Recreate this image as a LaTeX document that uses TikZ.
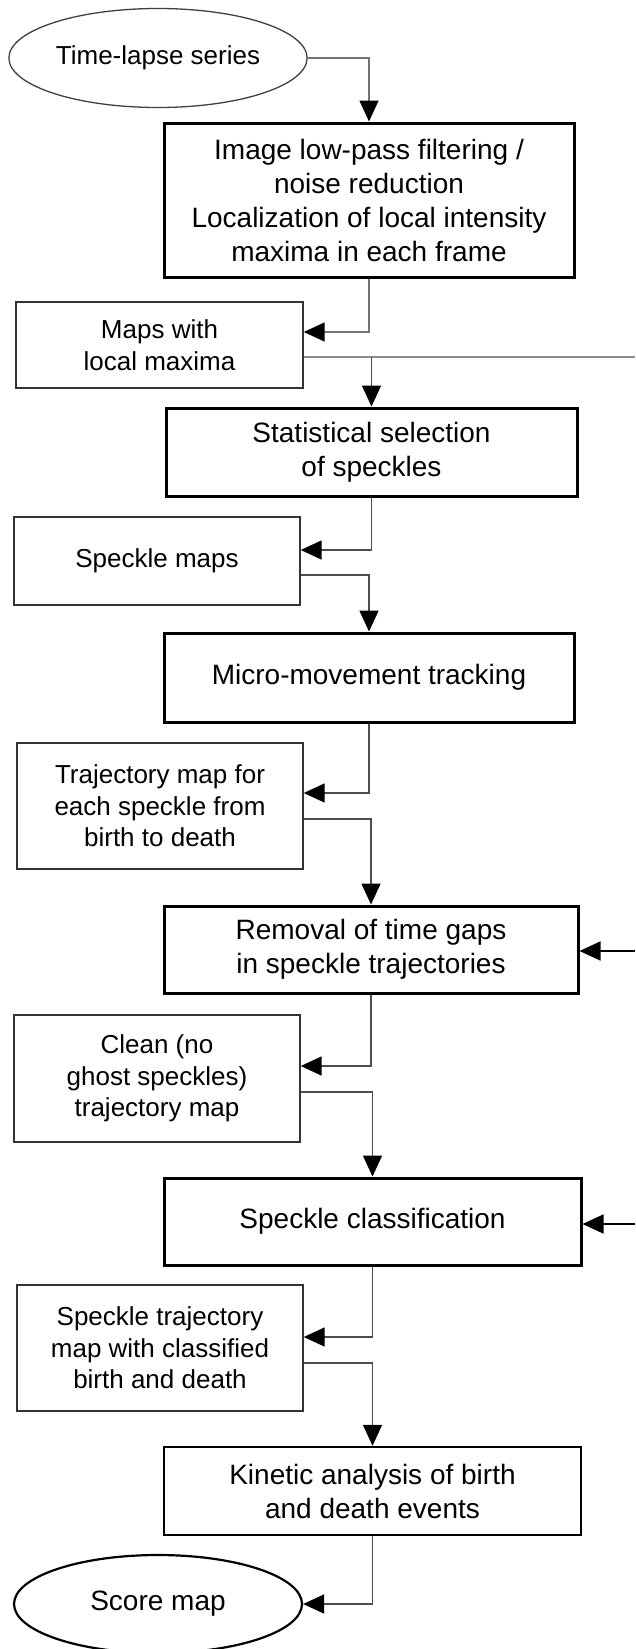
\documentclass[tikz,border=0pt]{standalone}
\usepackage{fontspec}
\setmainfont{Liberation Sans}
\usetikzlibrary{shapes.geometric}
\usetikzlibrary{arrows.meta}

\begin{document}
\begin{tikzpicture}[x=1pt,y=-1pt,
  stage/.style={rectangle,draw=black,line width=3pt,inner sep=0pt,align=center,
    font=\fontsize{28}{34}\selectfont},
  result/.style={rectangle,draw=black!80,line width=1.4pt,inner sep=0pt,align=center,
    font=\fontsize{26}{31.5}\selectfont},
  conn/.style={draw=black!70,line width=1.6pt,-{Triangle[length=21pt,width=19pt,color=black]}},
  wire/.style={draw=black!45,line width=2.6pt}]
 \useasboundingbox (0,0) rectangle (635,1649);
 \node[ellipse,draw=black!75,line width=1.3pt,minimum width=288pt,minimum height=99pt,
   font=\fontsize{26}{31}\selectfont] (series) at (158,58) {Time-lapse series};
 \node[stage,minimum width=410pt,minimum height=154pt] (filter) at (369,200)
   {Image low-pass filtering /\\noise reduction\\Localization of local intensity\\maxima in each frame};
 \node[result,minimum width=287pt,minimum height=86pt] (maxmaps) at (159.5,345) {Maps with\\local maxima};
 \node[stage,minimum width=411pt,minimum height=88pt] (select) at (371.5,452) {Statistical selection\\of speckles};
 \node[result,minimum width=286pt,minimum height=88pt] (spmaps) at (157,561) {Speckle maps};
 \node[stage,minimum width=410pt,minimum height=89pt] (track) at (369,677.5) {Micro-movement tracking};
 \node[result,minimum width=286pt,minimum height=126pt] (trajmap) at (160,806)
   {Trajectory map for\\each speckle from\\birth to death};
 \node[stage,minimum width=414pt,minimum height=87pt] (gaps) at (371,949.5)
   {Removal of time gaps\\in speckle trajectories};
 \node[result,minimum width=286pt,minimum height=127pt] (cleanmap) at (157,1078.5)
   {Clean (no\\ghost speckles)\\trajectory map};
 \node[stage,minimum width=417pt,minimum height=87pt] (classify) at (372.5,1221.5) {Speckle classification};
 \node[result,minimum width=286pt,minimum height=126pt] (classmap) at (160,1348)
   {Speckle trajectory\\map with classified\\birth and death};
 \node[stage,line width=2.4pt,minimum width=417pt,minimum height=88pt] (kinetic) at (372.5,1491)
   {Kinetic analysis of birth\\and death events};
 \node[ellipse,draw=black,line width=2.2pt,minimum width=288pt,minimum height=98pt,
   font=\fontsize{28}{34}\selectfont] (score) at (158,1604) {Score map};
 \coordinate (out1) at (635,357);
 \coordinate (in1) at (635,951);
 \coordinate (in2) at (635,1224);
 \draw[conn,draw=black!55] (series.east) -| (filter.north);
 \draw[conn,draw=black!55] (filter.south) |- ([yshift=13pt]maxmaps.east);
 \draw[wire] ([yshift=-12pt]maxmaps.east) -- (out1);
 \draw[conn] (select.north |- out1) -- (select.north);
 \draw[conn] (select.south) |- ([yshift=11pt]spmaps.east);
 \draw[conn] ([yshift=-14pt]spmaps.east) -| (track.north);
 \draw[conn] (track.south) |- ([yshift=13pt]trajmap.east);
 \draw[conn] ([yshift=-13pt]trajmap.east) -| (gaps.north);
 \draw[conn,draw=black] (in1) -- (gaps.east |- in1);
 \draw[conn] (gaps.south) |- ([yshift=12.5pt]cleanmap.east);
 \draw[conn] ([yshift=-13.5pt]cleanmap.east) -| (classify.north);
 \draw[conn,draw=black] (in2) -- (classify.east |- in2);
 \draw[conn] (classify.south) |- ([yshift=11pt]classmap.east);
 \draw[conn] ([yshift=-15pt]classmap.east) -| (kinetic.north);
 \draw[conn] (kinetic.south) |- (score.east);
\end{tikzpicture}
\end{document}
